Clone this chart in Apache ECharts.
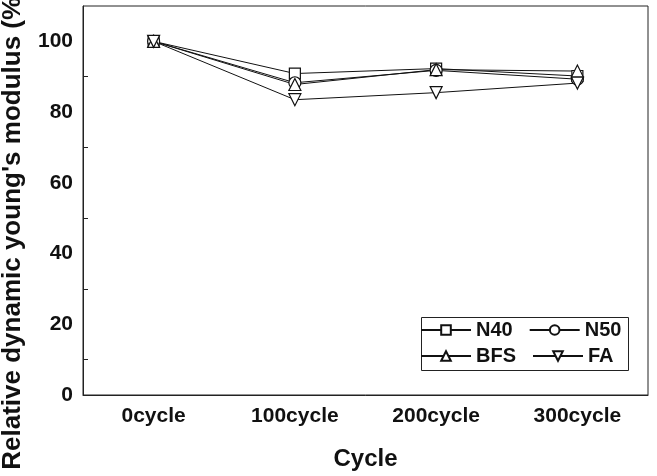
<!DOCTYPE html>
<html>
<head>
<meta charset="utf-8">
<script src="https://cdn.jsdelivr.net/npm/echarts@6/dist/echarts.min.js"></script>
<style>
  html, body { margin: 0; padding: 0; background: #fff; }
  #chart { width: 657px; height: 476px; }
</style>
</head>
<body>
<div id="chart"></div>
<script>
// 数据
var cycles = ['0cycle', '100cycle', '200cycle', '300cycle'];
var n40 = [100, 90.9, 92.3, 90.2];
var n50 = [100, 88.3, 91.8, 89.3];
var bfs = [100, 87.8, 92.0, 91.6];
var fa = [100, 83.5, 85.5, 88.2];

var font = 'Liberation Sans, Arial, sans-serif';
var yTitle = "Relative dynamic young's modulus (%)";

function makeSeries (name, data, symbol, rotate) {
  return {
    name: name,
    type: 'line',
    data: data,
    symbol: symbol,
    symbolSize: symbol === 'rect' ? 11 : 12,
    symbolRotate: rotate,
    showAllSymbol: true,
    lineStyle: { color: '#111', width: 1 },
    itemStyle: { color: '#fff', borderColor: '#111', borderWidth: 1.2 },
    emphasis: { disabled: true }
  };
}

function makeLegend (top, names) {
  return {
    left: 420,
    top: top,
    orient: 'horizontal',
    itemWidth: 50,
    itemHeight: 12,
    itemGap: 16,
    padding: 0,
    textStyle: { fontSize: 20, fontWeight: 'bold', color: '#111', fontFamily: font },
    data: names
  };
}

var myChart = echarts.init(document.getElementById('chart'));
myChart.setOption({
  animation: false,
  textStyle: { fontFamily: font },
  grid: {
    left: 83,
    right: 9,
    top: 6,
    bottom: 78,
    show: true,
    borderColor: '#222',
    borderWidth: 1
  },
  legend: [
    makeLegend(320, ['N40', 'N50']),
    makeLegend(346, ['BFS', 'FA'])
  ],
  // 图例外框 + 纵轴标题
  graphic: [
    {
      type: 'rect',
      left: 419,
      top: 315,
      shape: { width: 207, height: 53 },
      style: { fill: null, stroke: '#222', lineWidth: 1 },
      silent: true
    },
    {
      type: 'text',
      x: 13,
      y: 229,
      rotation: Math.PI / 2,
      style: {
        text: yTitle,
        fontSize: 26,
        fontWeight: 'bold',
        fontFamily: font,
        fill: '#111',
        align: 'center',
        verticalAlign: 'middle'
      },
      silent: true
    }
  ],
  xAxis: {
    type: 'category',
    data: cycles,
    boundaryGap: true,
    name: 'Cycle',
    nameLocation: 'middle',
    nameGap: 52,
    nameTextStyle: { fontSize: 24, fontWeight: 'bold', color: '#111', fontFamily: font },
    axisLine: { lineStyle: { color: '#222', width: 1 } },
    axisTick: { inside: true, alignWithLabel: true, length: 7, lineStyle: { color: '#222' } },
    axisLabel: { fontSize: 21, fontWeight: 'bold', color: '#111', margin: 11 },
    splitLine: { show: false }
  },
  yAxis: {
    type: 'value',
    min: 0,
    max: 110,
    interval: 20,
    axisLine: { show: true, lineStyle: { color: '#222', width: 1 } },
    axisTick: { inside: true, length: 8, lineStyle: { color: '#222' } },
    minorTick: { show: true, splitNumber: 2, length: 5, lineStyle: { color: '#222' } },
    axisLabel: { fontSize: 21, fontWeight: 'bold', color: '#111', margin: 10, showMaxLabel: false },
    splitLine: { show: false }
  },
  series: [
    makeSeries('N40', n40, 'rect', 0),
    makeSeries('N50', n50, 'circle', 0),
    makeSeries('BFS', bfs, 'triangle', 0),
    makeSeries('FA', fa, 'triangle', 180)
  ]
});
</script>
</body>
</html>
